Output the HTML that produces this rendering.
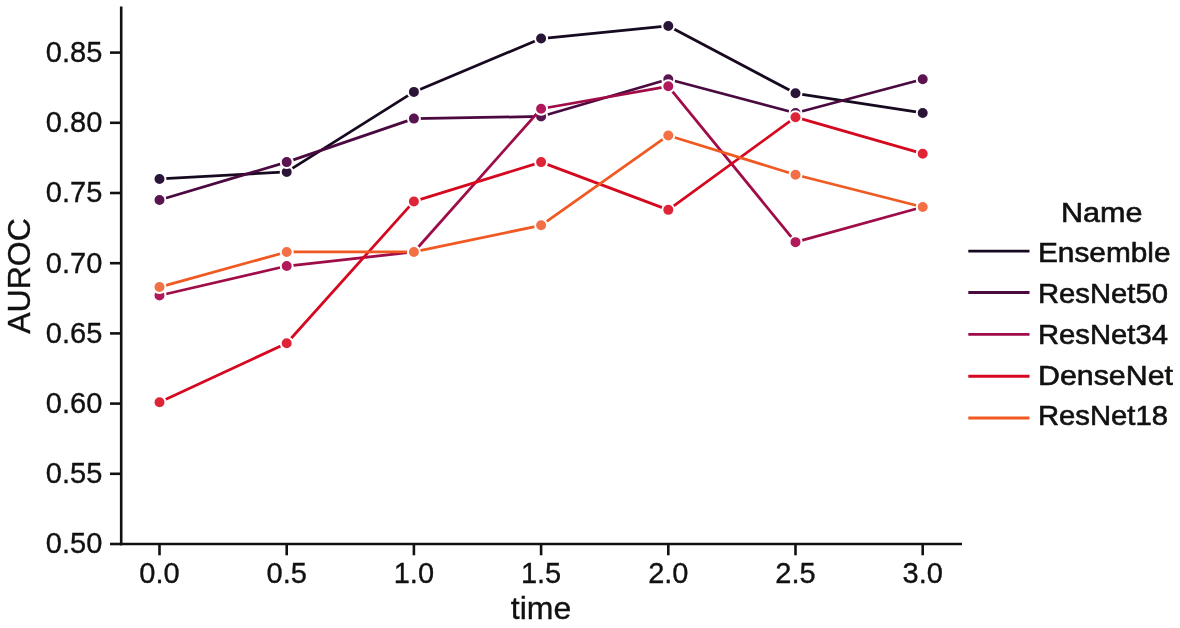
<!DOCTYPE html>
<html lang="en">
<head>
<meta charset="utf-8">
<title>AUROC over time</title>
<style>
html,body{margin:0;padding:0;background:#fff;}
body{width:1180px;height:628px;overflow:hidden;}
svg{display:block;}
text{font-family:"Liberation Sans",sans-serif;fill:#111;}
text{stroke:#111;stroke-width:0.35px;}
.tick{font-size:29px;}
.axl{font-size:32px;}
.leg{font-size:28px;stroke-width:0.6px;}
</style>
</head>
<body>
<svg width="1180" height="628" viewBox="0 0 1180 628">
<rect width="1180" height="628" fill="#ffffff"/>
<g>
<polyline points="159.5,178.96 286.7,171.94 413.9,91.91 541.1,38.56 668.3,25.92 795.5,93.32 922.7,112.97" fill="none" stroke="#170a20" stroke-width="2.75" stroke-linejoin="round" stroke-linecap="round"/>
<circle cx="159.5" cy="178.96" r="6" fill="#2a1438" stroke="#ffffff" stroke-width="2"/>
<circle cx="286.7" cy="171.94" r="6" fill="#2a1438" stroke="#ffffff" stroke-width="2"/>
<circle cx="413.9" cy="91.91" r="6" fill="#2a1438" stroke="#ffffff" stroke-width="2"/>
<circle cx="541.1" cy="38.56" r="6" fill="#2a1438" stroke="#ffffff" stroke-width="2"/>
<circle cx="668.3" cy="25.92" r="6" fill="#2a1438" stroke="#ffffff" stroke-width="2"/>
<circle cx="795.5" cy="93.32" r="6" fill="#2a1438" stroke="#ffffff" stroke-width="2"/>
<circle cx="922.7" cy="112.97" r="6" fill="#2a1438" stroke="#ffffff" stroke-width="2"/>
</g>
<g>
<polyline points="159.5,200.02 286.7,162.11 413.9,118.59 541.1,116.48 668.3,79.28 795.5,112.97 922.7,79.28" fill="none" stroke="#4a0a40" stroke-width="2.75" stroke-linejoin="round" stroke-linecap="round"/>
<circle cx="159.5" cy="200.02" r="6" fill="#5a1450" stroke="#ffffff" stroke-width="2"/>
<circle cx="286.7" cy="162.11" r="6" fill="#5a1450" stroke="#ffffff" stroke-width="2"/>
<circle cx="413.9" cy="118.59" r="6" fill="#5a1450" stroke="#ffffff" stroke-width="2"/>
<circle cx="541.1" cy="116.48" r="6" fill="#5a1450" stroke="#ffffff" stroke-width="2"/>
<circle cx="668.3" cy="79.28" r="6" fill="#5a1450" stroke="#ffffff" stroke-width="2"/>
<circle cx="795.5" cy="112.97" r="6" fill="#5a1450" stroke="#ffffff" stroke-width="2"/>
<circle cx="922.7" cy="79.28" r="6" fill="#5a1450" stroke="#ffffff" stroke-width="2"/>
</g>
<g>
<polyline points="159.5,295.49 286.7,266.01 413.9,251.97 541.1,108.76 668.3,86.3 795.5,242.14 922.7,207.04" fill="none" stroke="#a00c48" stroke-width="2.75" stroke-linejoin="round" stroke-linecap="round"/>
<circle cx="159.5" cy="295.49" r="6" fill="#b01a5a" stroke="#ffffff" stroke-width="2"/>
<circle cx="286.7" cy="266.01" r="6" fill="#b01a5a" stroke="#ffffff" stroke-width="2"/>
<circle cx="413.9" cy="251.97" r="6" fill="#b01a5a" stroke="#ffffff" stroke-width="2"/>
<circle cx="541.1" cy="108.76" r="6" fill="#b01a5a" stroke="#ffffff" stroke-width="2"/>
<circle cx="668.3" cy="86.3" r="6" fill="#b01a5a" stroke="#ffffff" stroke-width="2"/>
<circle cx="795.5" cy="242.14" r="6" fill="#b01a5a" stroke="#ffffff" stroke-width="2"/>
<circle cx="922.7" cy="207.04" r="6" fill="#b01a5a" stroke="#ffffff" stroke-width="2"/>
</g>
<g>
<polyline points="159.5,402.2 286.7,343.23 413.9,201.42 541.1,162.11 668.3,209.85 795.5,117.18 922.7,153.69" fill="none" stroke="#d6081f" stroke-width="2.75" stroke-linejoin="round" stroke-linecap="round"/>
<circle cx="159.5" cy="402.2" r="6" fill="#e02438" stroke="#ffffff" stroke-width="2"/>
<circle cx="286.7" cy="343.23" r="6" fill="#e02438" stroke="#ffffff" stroke-width="2"/>
<circle cx="413.9" cy="201.42" r="6" fill="#e02438" stroke="#ffffff" stroke-width="2"/>
<circle cx="541.1" cy="162.11" r="6" fill="#e02438" stroke="#ffffff" stroke-width="2"/>
<circle cx="668.3" cy="209.85" r="6" fill="#e02438" stroke="#ffffff" stroke-width="2"/>
<circle cx="795.5" cy="117.18" r="6" fill="#e02438" stroke="#ffffff" stroke-width="2"/>
<circle cx="922.7" cy="153.69" r="6" fill="#e02438" stroke="#ffffff" stroke-width="2"/>
</g>
<g>
<polyline points="159.5,287.07 286.7,251.97 413.9,251.97 541.1,225.29 668.3,135.44 795.5,174.75 922.7,207.04" fill="none" stroke="#f05a22" stroke-width="2.75" stroke-linejoin="round" stroke-linecap="round"/>
<circle cx="159.5" cy="287.07" r="6" fill="#f36f45" stroke="#ffffff" stroke-width="2"/>
<circle cx="286.7" cy="251.97" r="6" fill="#f36f45" stroke="#ffffff" stroke-width="2"/>
<circle cx="413.9" cy="251.97" r="6" fill="#f36f45" stroke="#ffffff" stroke-width="2"/>
<circle cx="541.1" cy="225.29" r="6" fill="#f36f45" stroke="#ffffff" stroke-width="2"/>
<circle cx="668.3" cy="135.44" r="6" fill="#f36f45" stroke="#ffffff" stroke-width="2"/>
<circle cx="795.5" cy="174.75" r="6" fill="#f36f45" stroke="#ffffff" stroke-width="2"/>
<circle cx="922.7" cy="207.04" r="6" fill="#f36f45" stroke="#ffffff" stroke-width="2"/>
</g>
<g stroke="#111" stroke-width="2.6" fill="none" stroke-linecap="butt">
<path d="M121.2 6.4V545.3"/>
<path d="M119.9 544H962"/>
<path d="M110 544.0H121"/>
<path d="M110 473.8H121"/>
<path d="M110 403.6H121"/>
<path d="M110 333.4H121"/>
<path d="M110 263.2H121"/>
<path d="M110 193.0H121"/>
<path d="M110 122.8H121"/>
<path d="M110 52.6H121"/>
<path d="M159.5 544V555.3"/>
<path d="M286.7 544V555.3"/>
<path d="M413.9 544V555.3"/>
<path d="M541.1 544V555.3"/>
<path d="M668.3 544V555.3"/>
<path d="M795.5 544V555.3"/>
<path d="M922.7 544V555.3"/>
</g>
<text class="tick" x="102.3" y="553.4" text-anchor="end">0.50</text>
<text class="tick" x="102.3" y="483.2" text-anchor="end">0.55</text>
<text class="tick" x="102.3" y="413.0" text-anchor="end">0.60</text>
<text class="tick" x="102.3" y="342.8" text-anchor="end">0.65</text>
<text class="tick" x="102.3" y="272.6" text-anchor="end">0.70</text>
<text class="tick" x="102.3" y="202.4" text-anchor="end">0.75</text>
<text class="tick" x="102.3" y="132.2" text-anchor="end">0.80</text>
<text class="tick" x="102.3" y="62.0" text-anchor="end">0.85</text>
<text class="tick" x="159.5" y="582.6" text-anchor="middle">0.0</text>
<text class="tick" x="286.7" y="582.6" text-anchor="middle">0.5</text>
<text class="tick" x="413.9" y="582.6" text-anchor="middle">1.0</text>
<text class="tick" x="541.1" y="582.6" text-anchor="middle">1.5</text>
<text class="tick" x="668.3" y="582.6" text-anchor="middle">2.0</text>
<text class="tick" x="795.5" y="582.6" text-anchor="middle">2.5</text>
<text class="tick" x="922.7" y="582.6" text-anchor="middle">3.0</text>
<text class="axl" x="541" y="618.8" text-anchor="middle">time</text>
<text class="axl" transform="translate(29.8 276) rotate(-90)" text-anchor="middle">AUROC</text>
<text class="leg" x="1101.7" y="222" text-anchor="middle" textLength="81.5" lengthAdjust="spacingAndGlyphs">Name</text>
<path d="M968.3 251.1H1029.5" stroke="#170a20" stroke-width="2.9" fill="none"/>
<text class="leg" x="1038" y="262.4" textLength="132.5" lengthAdjust="spacingAndGlyphs">Ensemble</text>
<path d="M968.3 292.5H1029.5" stroke="#4a0a40" stroke-width="2.9" fill="none"/>
<text class="leg" x="1038" y="302.9" textLength="130" lengthAdjust="spacingAndGlyphs">ResNet50</text>
<path d="M968.3 334.4H1029.5" stroke="#a00c48" stroke-width="2.9" fill="none"/>
<text class="leg" x="1038" y="344.1" textLength="130" lengthAdjust="spacingAndGlyphs">ResNet34</text>
<path d="M968.3 376.2H1029.5" stroke="#d6081f" stroke-width="2.9" fill="none"/>
<text class="leg" x="1038" y="384.5" textLength="135" lengthAdjust="spacingAndGlyphs">DenseNet</text>
<path d="M968.3 418.0H1029.5" stroke="#f05a22" stroke-width="2.9" fill="none"/>
<text class="leg" x="1038" y="425.3" textLength="130" lengthAdjust="spacingAndGlyphs">ResNet18</text>
</svg>
</body>
</html>
